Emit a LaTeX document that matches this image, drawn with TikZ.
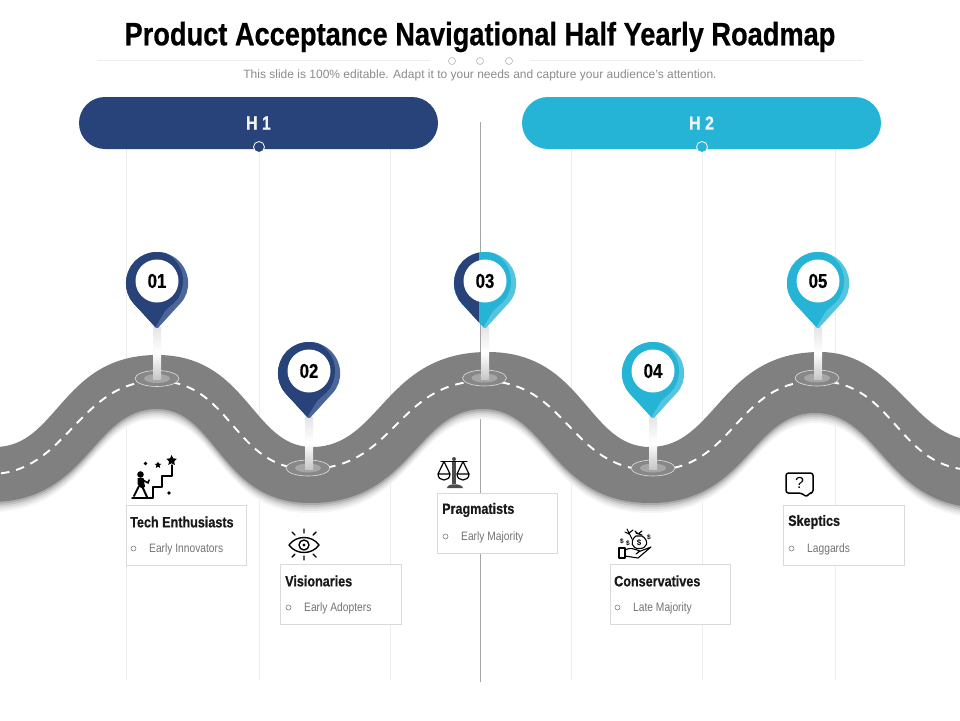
\documentclass[tikz,border=0pt]{standalone}
\usepackage{fontspec}
\setmainfont{Liberation Sans}
\newfontfamily\narrowfont[FakeStretch=0.84,BoldFeatures={FakeStretch=0.84,FakeBold=0.5}]{Liberation Sans}
\usetikzlibrary{shapes.geometric}
\definecolor{navy}{HTML}{27437A}
\definecolor{navyl}{HTML}{4C6699}
\definecolor{cyanb}{HTML}{25B4D6}
\definecolor{cyanl}{HTML}{55C4DF}
\definecolor{roadc}{HTML}{808080}
\definecolor{guide}{HTML}{EDEDED}
\definecolor{boxc}{HTML}{DADADA}
\definecolor{subc}{HTML}{8C8C8C}
\tikzset{
  guideline/.style={draw=guide,line width=0.7pt},
  bar/.style={rounded corners=26pt,minimum width=359pt,minimum height=52pt,inner sep=0pt,text=white!95!black,font=\narrowfont\bfseries\fontsize{19}{19}\selectfont},
  card/.style={draw=boxc,fill=white,line width=0.7pt,minimum width=120.5pt,minimum height=60.5pt,inner sep=0pt},
  cardtitle/.style={anchor=west,inner sep=0pt,font=\narrowfont\bfseries\fontsize{15}{15}\selectfont,text=black!90},
  cardsub/.style={anchor=west,inner sep=0pt,font=\narrowfont\fontsize{12.2}{12}\selectfont,text=black!55},
  bulletc/.style={draw=black!55,line width=0.5pt,circle,minimum size=5pt,inner sep=0pt},
  pinnum/.style={circle,fill=white,minimum size=43pt,inner sep=0pt,font=\narrowfont\bfseries\fontsize{20}{20}\selectfont,text=black},
  ico/.style={line width=1.4pt,draw=black,line cap=round,line join=round},
}
\def\roadpath{(-30,447) -- (-5,447)
  .. controls (58,447) and (61,355) .. (157,355)
  .. controls (248,355) and (252,447) .. (312,447)
  .. controls (381,447) and (384,352) .. (488,352)
  .. controls (584,352) and (587,447) .. (650,447)
  .. controls (716,447) and (720,352) .. (820,352)
  .. controls (895,352) and (915,440) .. (975,440)
  -- (1000,440) -- (1000,508) -- (985,508)
  .. controls (885,508) and (881,413) .. (815,413)
  .. controls (751,413) and (747,503) .. (650,503)
  .. controls (551,503) and (548,409) .. (483,409)
  .. controls (416,409) and (412,503) .. (310,503)
  .. controls (220,503) and (217,409) .. (157,409)
  .. controls (92,409) and (89,502) .. (-10,502)
  -- (-30,502) -- cycle}
\def\dashpath{(-30,474) -- (-10,474)
  .. controls (67,474) and (78,381) .. (157,381)
  .. controls (232,381) and (233,469) .. (308,469)
  .. controls (396,469) and (396,381) .. (484,381)
  .. controls (568,381) and (569,470) .. (653,470)
  .. controls (735,470) and (735,381) .. (817,381)
  .. controls (896,381) and (896,470) .. (975,470)
  -- (1000,470)}
\def\pinshape{(0,48) -- (22.9,22.9) arc[start angle=42.4,end angle=-222.4,radius=31] -- cycle}
\newcommand{\mystem}{%
  \shade[top color=black!10,bottom color=white] (-4,46) rectangle (4,72);
  \shade[top color=white,bottom color=black!22] (-4,72) rectangle (4,98);}
% x, y, name, number, main, light
\newcommand{\mypin}[6]{%
  \begin{scope}[shift={(#1,#2)}]
    \mystem
    \fill[#6,rounded corners=1.5pt] \pinshape;
    \begin{scope}
      \clip \pinshape;
      \fill[#5] (-5,0) circle[radius=31];
      \fill[#5] (-40,0) -- (-4,50) -- (8,30) -- (22,16) -- (0,-10) -- cycle;
    \end{scope}
    \node[pinnum] (#3) at (0,0) {#4};
  \end{scope}}
\newcommand{\mybase}[3]{%
  \node[ellipse,draw=black!12,line width=0.6pt,fill=black!47,minimum width=44pt,minimum height=16pt,inner sep=0pt] (#3) at (#1,#2) {};
  \fill[black!35] (#1,#2) ellipse[x radius=13,y radius=4.5];}
\newcommand{\mystar}[3]{\fill[black] (#1,#2-#3)
  -- (#1+0.29*#3,#2-0.40*#3) -- (#1+0.95*#3,#2-0.31*#3) -- (#1+0.47*#3,#2+0.15*#3)
  -- (#1+0.59*#3,#2+0.81*#3) -- (#1,#2+0.50*#3) -- (#1-0.59*#3,#2+0.81*#3) -- (#1-0.47*#3,#2+0.15*#3)
  -- (#1-0.95*#3,#2-0.31*#3) -- (#1-0.29*#3,#2-0.40*#3) -- cycle;}
\begin{document}
\begin{tikzpicture}[x=1pt,y=-1pt]
\useasboundingbox (0,0) rectangle (960,720);
\fill[white] (0,0) rectangle (960,720);
\clip (0,0) rectangle (960,720);
% guides
\foreach \gx in {126,259,390,571,702,835} \draw[guideline] (\gx,149) -- (\gx,680);
\draw[draw=black!35,line width=0.8pt] (480,122) -- (480,682);
% title
\node[inner sep=0pt,font=\narrowfont\bfseries\fontsize{32.4}{34}\selectfont,text=black] (title) at (480,37) {Product Acceptance Navigational Half Yearly Roadmap};
\draw[guide,line width=0.7pt] (97,60.5) -- (430,60.5) (530,60.5) -- (863,60.5);
\foreach \cx in {452,480,509} \draw[black!35,line width=0.5pt] (\cx,61) circle[radius=3.5];
\node[inner sep=0pt,font=\fontsize{12}{13}\selectfont,text=subc] (subtitle) at (480,75.5) {This slide is 100\% editable. Adapt it to your needs and capture your audience's attention.};
% bars
\node[bar,fill=navy] (h1) at (258.5,123) {H 1};
\node[bar,fill=cyanb] (h2) at (701.5,123) {H 2};
\draw[white,line width=0.8pt,fill=navy] (259,147) circle[radius=5.5];
\draw[white,line width=0.8pt,fill=cyanb] (702,147) circle[radius=5.5];
% road
\begin{scope}[yshift=-10pt]\fill[black!4] \roadpath;\end{scope}
\begin{scope}[yshift=-8pt]\fill[black!9] \roadpath;\end{scope}
\begin{scope}[yshift=-6pt]\fill[black!15] \roadpath;\end{scope}
\begin{scope}[yshift=-4pt]\fill[black!23] \roadpath;\end{scope}
\begin{scope}[yshift=-2pt]\fill[black!33] \roadpath;\end{scope}
\fill[roadc] \roadpath;
\draw[white,line width=1.9pt,dash pattern=on 8.5pt off 7pt] \dashpath;
% bases
\mybase{157}{378.5}{b1}
\mybase{308}{468}{b2}
\mybase{484.5}{378}{b3}
\mybase{653}{468}{b4}
\mybase{817}{378}{b5}
% pins
\mypin{157}{281}{p1}{01}{navy}{navyl}
\mypin{309}{371}{p2}{02}{navy}{navyl}
\mypin{653}{371}{p4}{04}{cyanb}{cyanl}
\mypin{818}{281}{p5}{05}{cyanb}{cyanl}
\begin{scope}[shift={(485,281)}]
  \mystem
  \fill[cyanl,rounded corners=1.5pt] \pinshape;
  \begin{scope}
    \clip \pinshape;
    \fill[cyanb] (-5,0) circle[radius=31];
    \fill[cyanb] (-40,0) -- (-4,50) -- (8,30) -- (22,16) -- (0,-10) -- cycle;
    \fill[navy] (-40,-40) rectangle (-6,60);
  \end{scope}
  \node[pinnum] (p3) at (0,0) {03};
\end{scope}
% cards
\node[card] (c1) at (186.5,535.5) {};
\node[card] (c2) at (341,594.5) {};
\node[card] (c3) at (497.5,523.5) {};
\node[card] (c4) at (670.5,594.5) {};
\node[card] (c5) at (844,535.5) {};
\node[cardtitle] (t1) at (130,522) {Tech Enthusiasts};
\node[cardtitle] (t2) at (285,581) {Visionaries};
\node[cardtitle] (t3) at (442,510) {Pragmatists};
\node[cardtitle] (t4) at (614,581) {Conservatives};
\node[cardtitle] (t5) at (788,522) {Skeptics};
\node[bulletc] (o1) at (133.5,548.5) {};
\node[bulletc] (o2) at (288.5,607.5) {};
\node[bulletc] (o3) at (445.5,536.5) {};
\node[bulletc] (o4) at (617.5,607.5) {};
\node[bulletc] (o5) at (791.5,548.5) {};
\node[cardsub] (s1) at (149,549) {Early Innovators};
\node[cardsub] (s2) at (304,608) {Early Adopters};
\node[cardsub] (s3) at (461,537) {Early Majority};
\node[cardsub] (s4) at (633,608) {Late Majority};
\node[cardsub] (s5) at (807,549) {Laggards};
% icon: tech
\draw[ico] (132,498) -- (153,498) -- (153,487) -- (162,487) -- (162,476) -- (172,476) -- (172,465);
\mystar{171.6}{460.5}{5.5}
\mystar{158}{465}{3.5}
\fill (145.5,463.5) circle[radius=1.9];
\fill (169,493) circle[radius=1.9];
\fill (140.5,474.5) circle[radius=3.3];
\fill[line join=round] (137.5,478) -- (143.5,478) -- (145,487) -- (141,488) -- (137.5,484) -- cycle;
\draw[ico,line width=2pt] (139,486) -- (134,496) (142,486) -- (147,497);
\draw[ico,line width=1.6pt] (143,480) -- (148,483) -- (149,480);
% icon: eye
\draw[ico] (289,545) .. controls (296,535) and (312,535) .. (319,545) .. controls (312,555) and (296,555) .. (289,545) -- cycle;
\draw[ico] (304,545) circle[radius=5];
\fill (304,545) circle[radius=1.6];
\draw[ico] (304,529) -- (304,533) (304,556) -- (304,560) (292,532) -- (295,535) (316,532) -- (313,535) (292,557) -- (295,554) (316,557) -- (313,554);
% icon: scale
\fill[black!70] (452,461) rectangle (456,484);
\fill[black!70] (447,488) .. controls (447,483) and (462,483) .. (463,488) -- cycle;
\fill[black!70] (454,459) circle[radius=2];
\draw[ico,line width=1.2pt] (441,461.5) -- (467,461.5);
\draw[ico,line width=1.2pt] (438,474) -- (444,461.5) -- (450,474) -- (438,474) .. controls (438,482) and (450,482) .. (450,474);
\draw[ico,line width=1.2pt] (457,474) -- (463,461.5) -- (469,474) -- (457,474) .. controls (457,482) and (469,482) .. (469,474);
% icon: hand and money
\draw[ico,line width=1.1pt] (619,548) rectangle (625,558);
\draw[ico,line width=1.1pt] (625,550) .. controls (630,547) and (634,549) .. (640,551) -- (636,554) (638,552) -- (651,547) -- (638,558) -- (625,556);
\draw[ico,line width=1.1pt] (636,536) .. controls (629,541) and (632,549) .. (639,548.5) .. controls (647,549) and (650,541) .. (642,536) -- cycle;
\draw[ico,line width=1.1pt] (635,531) -- (638,534) -- (642,531) (636,533) -- (642,535);
\draw[ico,line width=1.1pt] (632,539) -- (627,529) (629,533) -- (633,530) (629,534) -- (625,532);
\node[inner sep=0pt,font=\bfseries\fontsize{8}{8}\selectfont] (d1) at (639,542.5) {\$};
\node[inner sep=0pt,font=\bfseries\fontsize{6.5}{6}\selectfont] (d2) at (622,541) {\$};
\node[inner sep=0pt,font=\bfseries\fontsize{6.5}{6}\selectfont] (d3) at (628,543) {\$};
\node[inner sep=0pt,font=\bfseries\fontsize{6.5}{6}\selectfont] (d4) at (649,537) {\$};
% icon: question bubble
\draw[ico,line width=1.5pt,rounded corners=2.5pt] (786,473) -- (813,473) -- (813,493) -- (809,493) -- (807,497) -- (801,493) -- (786,493) -- cycle;
\node[inner sep=0pt,font=\fontsize{16}{16}\selectfont] (qm) at (799.5,483) {?};
\end{tikzpicture}
\end{document}
